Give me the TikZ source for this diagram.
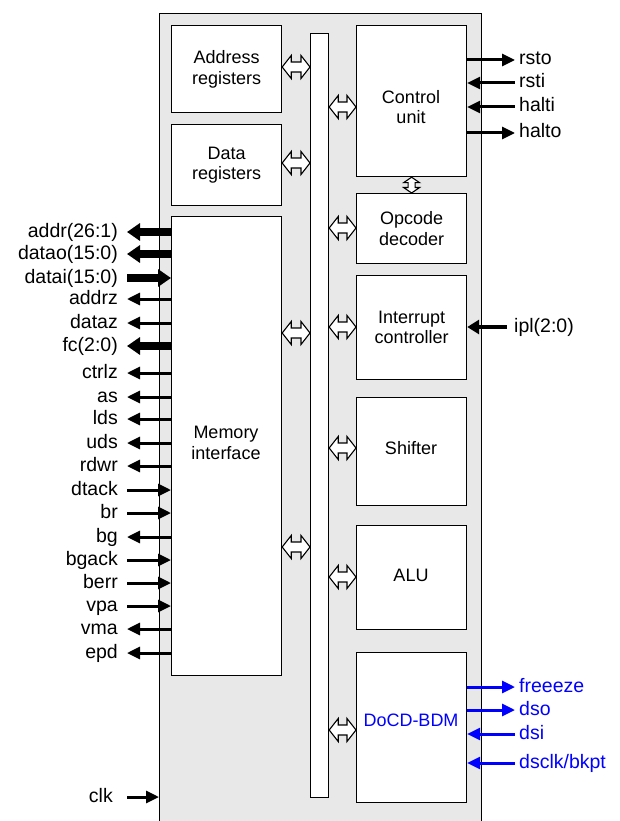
\documentclass[tikz,border=0pt]{standalone}
\usepackage{fontspec}
\setmainfont{Liberation Sans}
\usetikzlibrary{arrows.meta,calc}
\definecolor{panel}{RGB}{232,232,232}
\definecolor{sigblue}{RGB}{0,0,255}
\tikzset{
  unit/.style={draw=black,fill=white,line width=1.2pt,inner sep=0pt,anchor=north west},
  lbl/.style={font=\fontsize{18}{20.5}\selectfont,align=center,inner sep=0pt},
  sig/.style={font=\fontsize{19.5}{22}\selectfont,inner sep=0pt,text height=14pt,text depth=4pt},
  sigthinout/.style={line width=3pt,-{Triangle[length=13pt,width=12pt]}},
  sigthinin/.style={line width=3pt,{Triangle[length=13pt,width=12pt]}-},
  sigthickout/.style={line width=8pt,-{Triangle[length=13pt,width=17pt]}},
  sigthickin/.style={line width=8pt,{Triangle[length=13pt,width=17pt]}-},
  sigmedin/.style={line width=4.5pt,{Triangle[length=12pt,width=14pt]}-},
  dbl/.style={draw=black,fill=white,line width=1.1pt,line join=miter},
}
\newcommand\hdbl[2]{%
  \path[dbl] let \p1=#1, \p2=#2 in
   (\x1,\y1) -- (\x1+9pt,\y1+11.5pt) -- (\x1+9pt,\y1+5pt) -- (\x2-9pt,\y1+5pt)
   -- (\x2-9pt,\y1+11.5pt) -- (\x2,\y1) -- (\x2-9pt,\y1-11.5pt) -- (\x2-9pt,\y1-5pt)
   -- (\x1+9pt,\y1-5pt) -- (\x1+9pt,\y1-11.5pt) -- cycle;}
\newcommand\vdbl[2]{%
  \path[dbl] let \p1=#1, \p2=#2 in
   (\x1,\y1) -- (\x1+8pt,\y1-5.5pt) -- (\x1+3.5pt,\y1-5.5pt) -- (\x1+3.5pt,\y2+5.5pt)
   -- (\x1+8pt,\y2+5.5pt) -- (\x1,\y2) -- (\x1-8pt,\y2+5.5pt) -- (\x1-3.5pt,\y2+5.5pt)
   -- (\x1-3.5pt,\y1-5.5pt) -- (\x1-8pt,\y1-5.5pt) -- cycle;}
\begin{document}
\begin{tikzpicture}[x=1pt,y=-1pt]
\useasboundingbox (0,0) rectangle (619,821);
\clip (0,0) rectangle (619,821);
% chip panel
\node[draw=black,fill=panel,line width=1.2pt,inner sep=0pt,anchor=north west,
      minimum width=322pt,minimum height=830pt] (chip) at (159,13) {};
% blocks
\node[unit,minimum width=110pt,minimum height=87pt]  (addr) at (171,25) {};
\node[unit,minimum width=110pt,minimum height=81pt]  (data) at (171,124) {};
\node[unit,minimum width=110pt,minimum height=459pt] (mem)  at (171,216) {};
\node[unit,minimum width=18pt, minimum height=764pt] (bus)  at (310,33) {};
\node[unit,minimum width=110pt,minimum height=151pt] (ctrl) at (356,25) {};
\node[unit,minimum width=110pt,minimum height=70pt]  (opc)  at (356,193) {};
\node[unit,minimum width=110pt,minimum height=104pt] (irq)  at (356,275) {};
\node[unit,minimum width=110pt,minimum height=108pt] (shf)  at (356,397) {};
\node[unit,minimum width=110pt,minimum height=104pt] (alu)  at (356,525) {};
\node[unit,minimum width=110pt,minimum height=150pt] (bdm)  at (356,652) {};
% block texts
\node[lbl] (taddr) at (addr.center) {Address\\registers};
\node[lbl] (tdata) at (data.center) {Data\\registers};
\node[lbl] (tmem)  at (226,443) {Memory\\interface};
\node[lbl] (tctrl) at (411,107) {Control\\unit};
\node[lbl] (topc)  at (opc.center) {Opcode\\decoder};
\node[lbl] (tirq)  at (irq.center) {Interrupt\\controller};
\node[lbl] (tshf)  at (411,448) {Shifter};
\node[lbl] (talu)  at (411,575) {ALU};
\node[lbl,text=sigblue] (tbdm) at (411,720) {DoCD-BDM};
% y levels for bus arrows
\coordinate (ya) at (0,67);
\coordinate (yd) at (0,163);
\coordinate (ym1) at (0,333);
\coordinate (ym2) at (0,547);
\coordinate (yc) at (0,107);
\coordinate (yo) at (0,228);
\coordinate (yi) at (0,327);
\coordinate (ys) at (0,448);
\coordinate (yl) at (0,577);
\coordinate (yb) at (0,730);
\hdbl{(addr.east |- ya)}{(bus.west |- ya)}
\hdbl{(data.east |- yd)}{(bus.west |- yd)}
\hdbl{(mem.east |- ym1)}{(bus.west |- ym1)}
\hdbl{(mem.east |- ym2)}{(bus.west |- ym2)}
\hdbl{(bus.east |- yc)}{(ctrl.west |- yc)}
\hdbl{(bus.east |- yo)}{(opc.west |- yo)}
\hdbl{(bus.east |- yi)}{(irq.west |- yi)}
\hdbl{(bus.east |- ys)}{(shf.west |- ys)}
\hdbl{(bus.east |- yl)}{(alu.west |- yl)}
\hdbl{(bus.east |- yb)}{(bdm.west |- yb)}
\vdbl{(ctrl.south)}{(opc.north)}
% left signals
\foreach \i/\t/\y/\k in {
  1/{addr(26:1)}/232/sigthickout,
  2/{datao(15:0)}/254/sigthickout,
  3/{datai(15:0)}/278/sigthickin,
  4/{addrz}/299/sigthinout,
  5/{dataz}/323/sigthinout,
  6/{fc(2:0)}/346/sigthickout,
  7/{ctrlz}/373/sigthinout,
  8/{as}/397/sigthinout,
  9/{lds}/419/sigthinout,
  10/{uds}/443/sigthinout,
  11/{rdwr}/466/sigthinout,
  12/{dtack}/490/sigthinin,
  13/{br}/513/sigthinin,
  14/{bg}/537/sigthinout,
  15/{bgack}/560/sigthinin,
  16/{berr}/583/sigthinin,
  17/{vpa}/606/sigthinin,
  18/{vma}/629/sigthinout,
  19/{epd}/653/sigthinout}{
  \node[sig,anchor=east] (L\i) at (118,\y) {\t};
  \draw[\k] (mem.west |- L\i.east) -- ([xshift=9pt]L\i.east);
}
% clk
\node[sig,anchor=east] (Lclk) at (113,797) {clk};
\draw[sigthinin] (chip.west |- Lclk.east) -- ([xshift=14pt]Lclk.east);
% right signals (control unit)
\foreach \i/\t/\y/\k in {
  1/{rsto}/60/sigthinout,
  2/{rsti}/83/sigthinin,
  3/{halti}/107/sigthinin,
  4/{halto}/133/sigthinout}{
  \node[sig,anchor=west] (R\i) at (519,\y) {\t};
  \draw[\k] (ctrl.east |- R\i.west) -- ([xshift=-4pt]R\i.west);
}
% interrupt level
\node[sig,anchor=west] (Ripl) at (514,327) {ipl(2:0)};
\draw[sigmedin] (irq.east |- Ripl.west) -- ([xshift=-7pt]Ripl.west);
% debug signals
\foreach \i/\t/\y/\k in {
  1/{freeeze}/687/sigthinout,
  2/{dso}/710/sigthinout,
  3/{dsi}/734/sigthinin,
  4/{dsclk/bkpt}/763/sigthinin}{
  \node[sig,anchor=west,text=sigblue] (D\i) at (519,\y) {\t};
  \draw[\k,draw=sigblue,fill=sigblue] (bdm.east |- D\i.west) -- ([xshift=-4pt]D\i.west);
}
\end{tikzpicture}
\end{document}
